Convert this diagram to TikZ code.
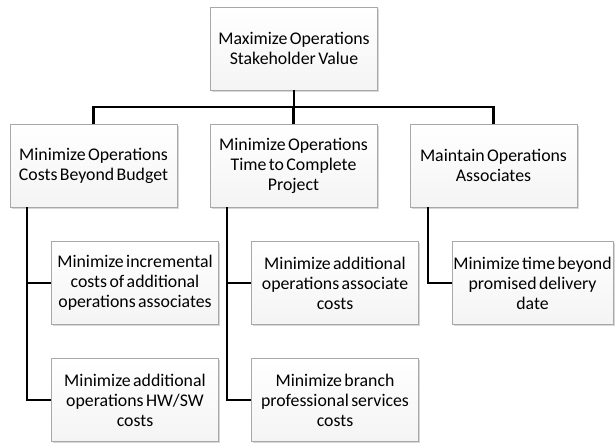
\documentclass[tikz,border=0pt]{standalone}
\usepackage{fontspec}
\setmainfont{Carlito}[WordSpace=0.6]
\usetikzlibrary{shadows}
\definecolor{boxline}{HTML}{A8A8A8}
\definecolor{boxshade}{HTML}{F4F4F4}
\begin{document}
\begin{tikzpicture}[x=1pt,y=-1pt,
  goalbox/.style={draw=boxline, line width=0.8pt,
    top color=white, bottom color=boxshade,
    minimum width=167pt, minimum height=83pt,
    align=center, inner sep=1pt,
    font=\fontsize{17.8}{20}\selectfont,
    drop shadow={shadow xshift=1.6pt, shadow yshift=-1.6pt, opacity=0.35, fill=black!45}},
  link/.style={line width=2.6pt, draw=black}]
\useasboundingbox (0,0) rectangle (615,443);

% top goal
\node[goalbox] (top) at (294,48.5) {Maximize Operations\\Stakeholder Value};

% first-level goals
\node[goalbox] (costs) at (93.5,165.5) {Minimize Operations\\Costs Beyond Budget};
\node[goalbox] (time)  at (293.5,165.5) {Minimize Operations\\Time to Complete\\Project};
\node[goalbox] (staff) at (493.5,165.5) {Maintain Operations\\Associates};

% second-level goals
\node[goalbox] (incr) at (135,283) {Minimize incremental\\costs of additional\\operations associates};
\node[goalbox] (hwsw) at (135,400) {Minimize additional\\operations HW/SW\\costs};
\node[goalbox] (assoc) at (335,283) {Minimize additional\\operations associate\\costs};
\node[goalbox] (branch) at (335,400) {Minimize branch\\professional services\\costs};
\node[goalbox, minimum width=161pt] (late) at (532.5,283) {Minimize time beyond\\promised delivery\\date};

% bus under the top goal and the spines of each column
\coordinate (hub) at (294,107);
\coordinate (spineA) at (27,0);
\coordinate (spineB) at (227,0);
\coordinate (spineC) at (428,0);

\draw[link] (top.south) -- (hub);
\draw[link] (costs.north) -- (costs.north |- hub) -- (staff.north |- hub) -- (staff.north);
\draw[link] (time.north) -- (time.north |- hub);

\draw[link] (costs.south -| spineA) |- (incr.west);
\draw[link] (costs.south -| spineA) |- (hwsw.west);
\draw[link] (time.south -| spineB) |- (assoc.west);
\draw[link] (time.south -| spineB) |- (branch.west);
\draw[link] (staff.south -| spineC) |- (late.west);
\end{tikzpicture}
\end{document}
